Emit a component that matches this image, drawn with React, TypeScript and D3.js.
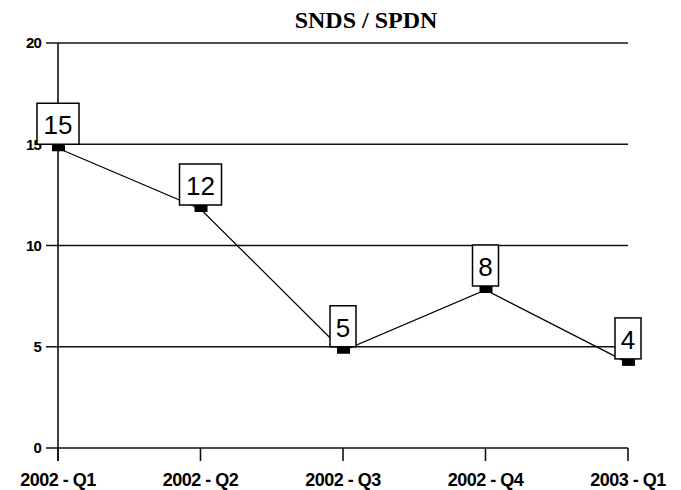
import React from "react";
import * as d3 from "d3";

const categories = ["2002 - Q1", "2002 - Q2", "2002 - Q3", "2002 - Q4", "2003 - Q1"];
const values = [15, 12, 5, 8, 4.4];
const yTicks = [0, 5, 10, 15, 20];
const title = "SNDS / SPDN";

const W = 681;
const H = 490;
const left = 58;
const right = 628;
const top = 43;
const bottom = 448;

export default function App() {
  const x = d3.scalePoint<string>().domain(categories).range([left, right]);
  const y = d3.scaleLinear().domain([0, 20]).range([bottom, top]);
  const line = d3
    .line<number>()
    .x((_, i) => x(categories[i]) as number)
    .y((d) => y(d) + 4);
  const fmt = d3.format(".0f");

  return (
    <svg
      width={W}
      height={H}
      style={{ position: "absolute", left: 0, top: 0, background: "#fff" }}
    >
      <text
        x={366}
        y={28}
        textAnchor="middle"
        fontFamily="Liberation Serif"
        fontWeight="bold"
        fontSize={24}
      >
        {title}
      </text>
      {yTicks.map((t) => (
        <g key={t}>
          <line x1={left - 12} x2={right} y1={y(t)} y2={y(t)} stroke="#111" strokeWidth={1.6} />
          <text
            x={41}
            y={y(t)}
            dy="0.36em"
            textAnchor="end"
            fontFamily="Liberation Sans"
            fontWeight="bold"
            fontSize={15}
            letterSpacing={-0.8}
          >
            {t}
          </text>
        </g>
      ))}
      <line x1={left} x2={left} y1={top} y2={bottom + 13} stroke="#111" strokeWidth={1.6} />
      {categories.map((c) => (
        <g key={c}>
          <line x1={x(c)} x2={x(c)} y1={bottom} y2={bottom + 13} stroke="#111" strokeWidth={1.6} />
          <text
            x={x(c)}
            y={486}
            textAnchor="middle"
            fontFamily="Liberation Sans"
            fontWeight="bold"
            fontSize={18}
            letterSpacing={-0.5}
          >
            {c}
          </text>
        </g>
      ))}
      <path d={line(values) || ""} fill="none" stroke="#000" strokeWidth={1.2} />
      {values.map((v, i) => {
        const cx = x(categories[i]) as number;
        const cy = y(v);
        const label = fmt(v);
        const bw = label.length > 1 ? 42 : 26;
        return (
          <g key={i}>
            <rect x={cx - 6} y={cy} width={13} height={7} fill="#000" />
            <rect
              x={cx - bw / 2}
              y={cy - 41}
              width={bw}
              height={41}
              fill="#fff"
              stroke="#000"
              strokeWidth={1.5}
            />
            <text
              x={cx}
              y={cy - 10}
              textAnchor="middle"
              fontFamily="Liberation Sans"
              fontSize={26}
            >
              {label}
            </text>
          </g>
        );
      })}
    </svg>
  );
}
